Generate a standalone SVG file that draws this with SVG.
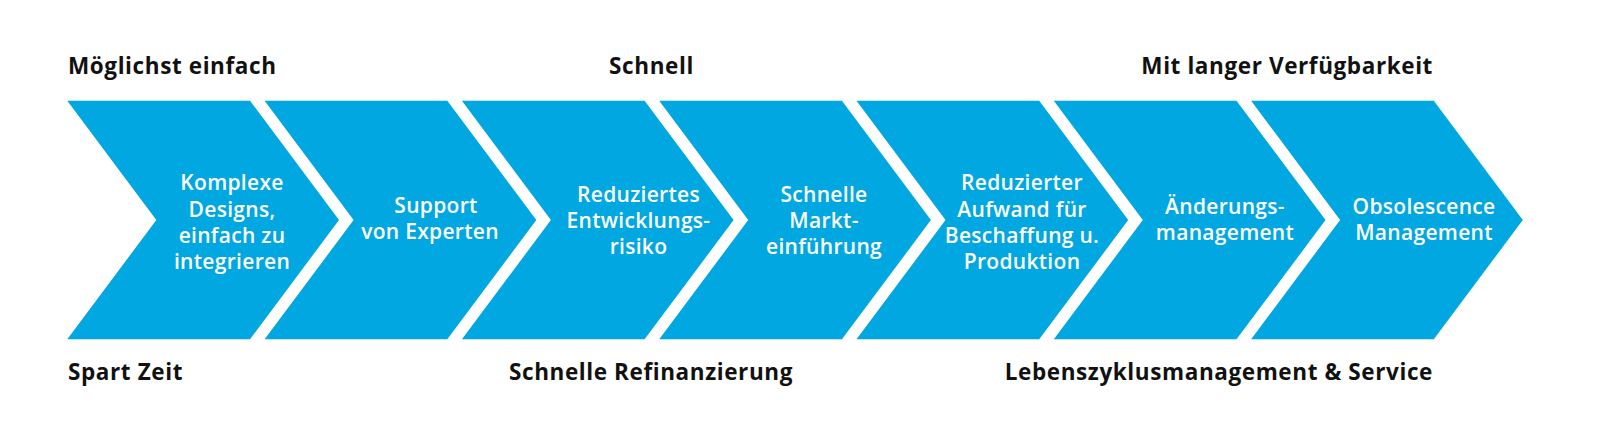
<svg xmlns="http://www.w3.org/2000/svg" width="1600" height="440" viewBox="0 0 1600 440">
<defs>
<style>
.chev{fill:#00A7E1;}
.lbl{font-family:"Open Sans","Liberation Sans",sans-serif;font-weight:700;font-size:22.5px;letter-spacing:0.6px;fill:#111;}
.t{font-family:"Open Sans","Liberation Sans",sans-serif;font-weight:600;font-size:21px;letter-spacing:0.3px;fill:#fff;text-anchor:middle;}
</style>
</defs>
<rect width="1600" height="440" fill="#fff"/>
<g id="labels">
<text class="lbl" x="68" y="74">Möglichst einfach</text>
<text class="lbl" x="651.5" y="74" text-anchor="middle">Schnell</text>
<text class="lbl" x="1433" y="74" text-anchor="end">Mit langer Verfügbarkeit</text>
<text class="lbl" x="68" y="380">Spart Zeit</text>
<text class="lbl" x="651" y="380" text-anchor="middle">Schnelle Refinanzierung</text>
<text class="lbl" x="1433" y="380" text-anchor="end">Lebenszyklusmanagement &amp; Service</text>
</g>
<g id="n1">
<polygon class="chev" points="67.3,100.7 250,100.7 339,220 250,339.3 67.3,339.3 156.3,220"/>
<text class="t" x="232" y="190">Komplexe</text>
<text class="t" x="232" y="216.5">Designs,</text>
<text class="t" x="232" y="242.8">einfach zu</text>
<text class="t" x="232" y="269.3">integrieren</text>
</g>
<g id="n2">
<polygon class="chev" points="264.6,100.7 447.3,100.7 536.3,220 447.3,339.3 264.6,339.3 353.6,220"/>
<text class="t" x="436" y="212.7">Support</text>
<text class="t" x="430" y="239.3">von Experten</text>
</g>
<g id="n3">
<polygon class="chev" points="461.9,100.7 644.6,100.7 733.6,220 644.6,339.3 461.9,339.3 550.9,220"/>
<text class="t" x="638.5" y="201.7">Reduziertes</text>
<text class="t" x="638.5" y="228">Entwicklungs-</text>
<text class="t" x="638.5" y="254">risiko</text>
</g>
<g id="n4">
<polygon class="chev" points="659.2,100.7 841.9,100.7 930.9,220 841.9,339.3 659.2,339.3 748.2,220"/>
<text class="t" x="824" y="201.7">Schnelle</text>
<text class="t" x="824" y="228">Markt-</text>
<text class="t" x="824" y="254">einführung</text>
</g>
<g id="n5">
<polygon class="chev" points="856.5,100.7 1039.2,100.7 1128.2,220 1039.2,339.3 856.5,339.3 945.5,220"/>
<text class="t" x="1022" y="190">Reduzierter</text>
<text class="t" x="1022" y="216.5">Aufwand für</text>
<text class="t" x="1022" y="242.8">Beschaffung u.</text>
<text class="t" x="1022" y="269.3">Produktion</text>
</g>
<g id="n6">
<polygon class="chev" points="1053.8,100.7 1236.5,100.7 1325.5,220 1236.5,339.3 1053.8,339.3 1142.8,220"/>
<text class="t" x="1225" y="214">Änderungs-</text>
<text class="t" x="1225" y="240">management</text>
</g>
<g id="n7">
<polygon class="chev" points="1251.1,100.7 1433.8,100.7 1522.8,220 1433.8,339.3 1251.1,339.3 1340.1,220"/>
<text class="t" x="1424" y="214">Obsolescence</text>
<text class="t" x="1424" y="240">Management</text>
</g>
<g id="connectors"></g>
</svg>
